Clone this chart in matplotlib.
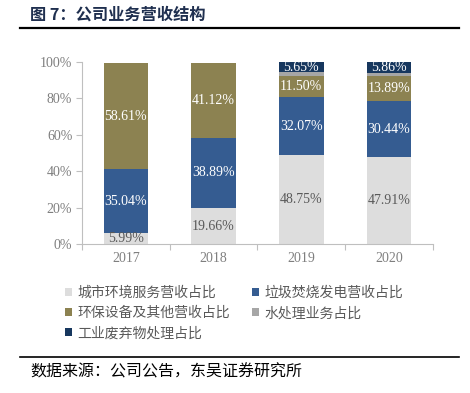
import matplotlib
matplotlib.use("Agg")
import matplotlib.pyplot as plt
from matplotlib.patches import Patch
from matplotlib.lines import Line2D
import numpy as np

years = ["2017", "2018", "2019", "2020"]
city_env = [5.99, 19.66, 48.75, 47.91]
incineration = [35.04, 38.89, 32.07, 30.44]
equipment = [58.61, 41.12, 11.50, 13.89]
water = [0.0, 0.0, 2.03, 1.90]
industrial = [0.0, 0.0, 5.65, 5.86]

series_names = ["城市环境服务营收占比", "垃圾焚烧发电营收占比", "环保设备及其他营收占比",
                "水处理业务占比", "工业废弃物处理占比"]
series_vals = [city_env, incineration, equipment, water, industrial]
colors = ["#DDDDDD", "#355C91", "#8C8251", "#A6A6A6", "#17375E"]
label_colors = ["#595959", "white", "white", None, "white"]
yticks = [0, 20, 40, 60, 80, 100]

CJK = ["Noto Sans CJK SC", "DejaVu Sans"]
SERIF = ["Liberation Serif", "DejaVu Serif"]

fig = plt.figure(figsize=(4.70, 3.93), dpi=100)
ax = fig.add_axes([0.1745, 0.379, 0.7465, 0.463])

x = np.arange(len(years))
bottom = np.zeros(len(years))
for name, vals, c, lc in zip(series_names, series_vals, colors, label_colors):
    vals = np.array(vals)
    ax.bar(x, vals, bottom=bottom, width=0.51, color=c, edgecolor="none", label=name)
    if lc is not None:
        for xi, v, b in zip(x, vals, bottom):
            if v > 0:
                ax.text(xi, b + v / 2, f"{v:.2f}%", ha="center", va="center",
                        fontsize=10, color=lc, family=SERIF)
    bottom += vals

ax.set_xlim(-0.5, 3.5)
ax.set_ylim(0, 100)
ax.set_yticks(yticks)
ax.set_yticklabels([f"{t}%" for t in yticks], family=SERIF, fontsize=10, color="#7F7F7F")
ax.set_xticks(x)
ax.set_xticklabels(years, family=SERIF, fontsize=10, color="#7F7F7F")
ax.set_xticks(np.arange(-0.5, 4.0, 1.0), minor=True)
ax.tick_params(axis="x", which="major", length=0, pad=6)
ax.tick_params(axis="x", which="minor", length=4, color="#BFBFBF", width=0.8)
ax.tick_params(axis="y", length=4, color="#BFBFBF", width=0.8, pad=3)
for s in ["top", "right"]:
    ax.spines[s].set_visible(False)
for s in ["left", "bottom"]:
    ax.spines[s].set_color("#BFBFBF")
    ax.spines[s].set_linewidth(0.8)

# Title and rules
fig.text(0.064, 0.962, "图 7：公司业务营收结构", fontsize=11.7, fontweight="bold",
         color="#1F2F4F", family=CJK, va="center", ha="left")
fig.add_artist(Line2D([0.043, 0.977], [0.929, 0.929], color="black", lw=1.6))
fig.add_artist(Line2D([0.043, 0.977], [0.092, 0.092], color="black", lw=1.2))
fig.text(0.064, 0.053, "数据来源：公司公告，东吴证券研究所", fontsize=11.5,
         color="black", family=CJK, va="center", ha="left")

# Legend
order = [0, 2, 4, 1, 3]
handles = [Patch(facecolor=colors[i], edgecolor="none") for i in order]
labels = [series_names[i] for i in order]
leg = fig.legend(handles, labels, ncol=2, loc="upper left", bbox_to_anchor=(0.138, 0.272),
                 frameon=False, prop={"family": CJK, "size": 10},
                 handlelength=0.5, handleheight=0.5, handletextpad=0.4,
                 labelspacing=0.44, columnspacing=1.6, borderpad=0, borderaxespad=0)
for t in leg.get_texts():
    t.set_color("#595959")

fig.savefig("out.png", dpi=100)
